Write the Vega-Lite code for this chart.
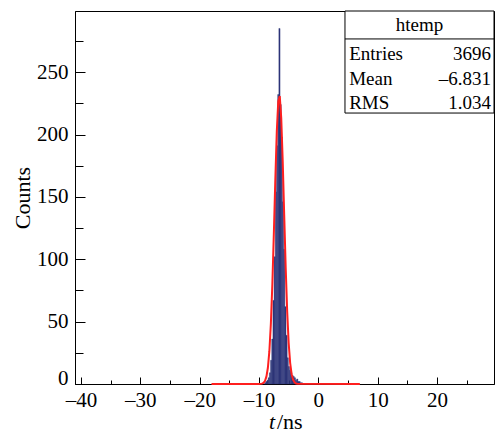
{
  "$schema": "https://vega.github.io/schema/vega-lite/v6.json",
  "width": 419,
  "height": 373,
  "autosize": {"type": "none"},
  "padding": {"left": 75, "top": 11, "right": 1, "bottom": 50},
  "background": "white",
  "config": {
    "view": {"stroke": "black", "strokeWidth": 1},
    "font": "Liberation Serif",
    "axis": {
      "domainColor": "black",
      "tickColor": "black",
      "grid": false,
      "labelFont": "Liberation Serif",
      "labelColor": "black",
      "titleFont": "Liberation Serif",
      "titleColor": "black",
      "titleFontWeight": "normal"
    }
  },
  "datasets": {
    "hist": [
      {"t0": -9.05, "t1": -8.85, "n": 1},
      {"t0": -8.85, "t1": -8.65, "n": 2},
      {"t0": -8.65, "t1": -8.45, "n": 3},
      {"t0": -8.45, "t1": -8.25, "n": 5},
      {"t0": -8.25, "t1": -8.05, "n": 9},
      {"t0": -8.05, "t1": -7.85, "n": 19},
      {"t0": -7.85, "t1": -7.65, "n": 36},
      {"t0": -7.65, "t1": -7.45, "n": 67},
      {"t0": -7.45, "t1": -7.25, "n": 102},
      {"t0": -7.25, "t1": -7.05, "n": 154},
      {"t0": -7.05, "t1": -6.85, "n": 191},
      {"t0": -6.85, "t1": -6.65, "n": 232},
      {"t0": -6.65, "t1": -6.45, "n": 285},
      {"t0": -6.45, "t1": -6.25, "n": 224},
      {"t0": -6.25, "t1": -6.05, "n": 198},
      {"t0": -6.05, "t1": -5.85, "n": 146},
      {"t0": -5.85, "t1": -5.65, "n": 108},
      {"t0": -5.65, "t1": -5.45, "n": 62},
      {"t0": -5.45, "t1": -5.25, "n": 39},
      {"t0": -5.25, "t1": -5.05, "n": 21},
      {"t0": -5.05, "t1": -4.85, "n": 14},
      {"t0": -4.85, "t1": -4.65, "n": 11},
      {"t0": -4.65, "t1": -4.45, "n": 9},
      {"t0": -4.45, "t1": -4.25, "n": 7},
      {"t0": -4.25, "t1": -4.05, "n": 6},
      {"t0": -4.05, "t1": -3.85, "n": 5},
      {"t0": -3.85, "t1": -3.65, "n": 3},
      {"t0": -3.65, "t1": -3.45, "n": 4},
      {"t0": -3.45, "t1": -3.25, "n": 2},
      {"t0": -3.25, "t1": -3.05, "n": 2},
      {"t0": -3.05, "t1": -2.85, "n": 1},
      {"t0": -2.85, "t1": -2.65, "n": 1}
    ],
    "fit": [
      {"t": -18.0, "v": 0},
      {"t": -10.0, "v": 0},
      {"t": -9.75, "v": 0.1},
      {"t": -9.5, "v": 0.3},
      {"t": -9.25, "v": 0.9},
      {"t": -9.0, "v": 2.4},
      {"t": -8.75, "v": 5.9},
      {"t": -8.5, "v": 13.0},
      {"t": -8.25, "v": 26.3},
      {"t": -8.0, "v": 48.0},
      {"t": -7.75, "v": 79.6},
      {"t": -7.5, "v": 119.8},
      {"t": -7.25, "v": 163.3},
      {"t": -7.0, "v": 202.1},
      {"t": -6.75, "v": 226.8},
      {"t": -6.5, "v": 230.8},
      {"t": -6.25, "v": 213.1},
      {"t": -6.0, "v": 178.4},
      {"t": -5.75, "v": 135.4},
      {"t": -5.5, "v": 93.3},
      {"t": -5.25, "v": 58.2},
      {"t": -5.0, "v": 33.0},
      {"t": -4.75, "v": 17.0},
      {"t": -4.5, "v": 7.9},
      {"t": -4.25, "v": 3.3},
      {"t": -4.0, "v": 1.3},
      {"t": -3.75, "v": 0.4},
      {"t": -3.5, "v": 0.1},
      {"t": 7.0, "v": 0}
    ],
    "statbox": [{"x0": 4.49, "x1": 29.6, "y0": 217.2, "y1": 299, "ysep": 276.6}],
    "statrows": [
      {"label": "Entries", "value": "3696", "row": 264.5},
      {"label": "Mean", "value": "–6.831", "row": 244.5},
      {"label": "RMS", "value": "1.034", "row": 225.3}
    ],
    "header": [{"name": "htemp", "xc": 17.05, "yc": 287.8}],
    "xtitle": [{"a": "t", "b": "/ns", "xp": -7.3, "yp": -30.8}]
  },
  "resolve": {"axis": {"x": "independent", "y": "independent"}},
  "layer": [
    {
      "data": {"name": "hist"},
      "mark": {"type": "rect", "color": "#2d3579", "stroke": "#2d3579", "strokeWidth": 0.4},
      "encoding": {
        "x": {
          "field": "t0", "type": "quantitative",
          "scale": {"domain": [-41, 29.6], "nice": false, "zero": false},
          "axis": {
            "orient": "bottom",
            "values": [-40, -30, -20, -10, 0, 10, 20],
            "tickSize": -7,
            "labelFontSize": 21,
            "labelPadding": 12,
            "labelExpr": "replace(datum.label, '−', '–')",
            "title": null,
            "labelFlush": false,
            "labelOverlap": false
          }
        },
        "x2": {"field": "t1"},
        "y": {
          "field": "n", "type": "quantitative",
          "scale": {"domain": [0, 299], "nice": false},
          "axis": {
            "orient": "left",
            "values": [0, 50, 100, 150, 200, 250],
            "tickSize": -10,
            "labelFontSize": 21,
            "labelPadding": 17,
            "labelBaseline": {"condition": {"test": "datum.value == 0", "value": "alphabetic"}, "value": "middle"},
            "title": "Counts",
            "titleFontSize": 22,
            "titlePadding": 2,
            "labelFlush": false,
            "labelOverlap": false
          }
        },
        "y2": {"datum": 0}
      }
    },
    {
      "data": {"name": "fit"},
      "mark": {"type": "line", "color": "#ff1f1f", "strokeWidth": 2, "clip": false},
      "encoding": {
        "x": {
          "field": "t", "type": "quantitative",
          "axis": {"orient": "bottom", "values": [-35, -25, -15, -5, 5, 15, 25], "tickSize": -4, "labels": false, "domain": false, "title": null}
        },
        "y": {
          "field": "v", "type": "quantitative",
          "axis": {"orient": "left", "values": [25, 75, 125, 175, 225, 275], "tickSize": -8, "labels": false, "domain": false, "title": null}
        }
      }
    },
    {
      "data": {"name": "statbox"},
      "mark": {"type": "rect", "fill": "white", "stroke": "black", "strokeWidth": 1},
      "encoding": {
        "x": {"field": "x0", "type": "quantitative", "axis": null},
        "x2": {"field": "x1"},
        "y": {"field": "y0", "type": "quantitative", "axis": null},
        "y2": {"field": "y1"}
      }
    },
    {
      "data": {"name": "statbox"},
      "mark": {"type": "rule", "color": "black", "strokeWidth": 1},
      "encoding": {
        "x": {"field": "x0", "type": "quantitative", "axis": null},
        "x2": {"field": "x1"},
        "y": {"field": "ysep", "type": "quantitative", "axis": null}
      }
    },
    {
      "data": {"name": "header"},
      "mark": {"type": "text", "font": "Liberation Serif", "fontSize": 19, "align": "center", "baseline": "middle", "color": "black"},
      "encoding": {
        "x": {"field": "xc", "type": "quantitative", "axis": null},
        "y": {"field": "yc", "type": "quantitative", "axis": null},
        "text": {"field": "name"}
      }
    },
    {
      "data": {"name": "statrows"},
      "mark": {"type": "text", "font": "Liberation Serif", "fontSize": 19, "align": "left", "baseline": "middle", "color": "black", "x": {"expr": "scale('x', 5.2)"}},
      "encoding": {
        "y": {"field": "row", "type": "quantitative", "axis": null},
        "text": {"field": "label"}
      }
    },
    {
      "data": {"name": "statrows"},
      "mark": {"type": "text", "font": "Liberation Serif", "fontSize": 19, "align": "right", "baseline": "middle", "color": "black", "x": {"expr": "scale('x', 29.09)"}},
      "encoding": {
        "y": {"field": "row", "type": "quantitative", "axis": null},
        "text": {"field": "value"}
      }
    },
    {
      "data": {"name": "xtitle"},
      "mark": {"type": "text", "font": "Liberation Serif", "fontSize": 22, "fontStyle": "italic", "align": "right", "baseline": "middle", "color": "black", "clip": false},
      "encoding": {
        "x": {"field": "xp", "type": "quantitative", "axis": null},
        "y": {"field": "yp", "type": "quantitative", "axis": null},
        "text": {"field": "a"}
      }
    },
    {
      "data": {"name": "xtitle"},
      "mark": {"type": "text", "font": "Liberation Serif", "fontSize": 22, "align": "left", "baseline": "middle", "color": "black", "clip": false, "dx": 2},
      "encoding": {
        "x": {"field": "xp", "type": "quantitative", "axis": null},
        "y": {"field": "yp", "type": "quantitative", "axis": null},
        "text": {"field": "b"}
      }
    }
  ]
}
